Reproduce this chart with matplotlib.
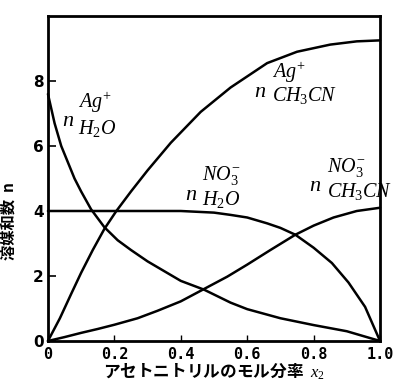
import matplotlib
matplotlib.use("Agg")
import matplotlib.pyplot as plt

plt.rcParams['font.family'] = ['Noto Sans CJK JP', 'DejaVu Sans']
plt.rcParams['mathtext.fontset'] = 'custom'
plt.rcParams['mathtext.it'] = 'Liberation Serif:italic'
plt.rcParams['mathtext.rm'] = 'Liberation Serif'

# solvation numbers vs. mole fraction of acetonitrile
ag_h2o_x = [0.0, 0.02, 0.04, 0.06, 0.08, 0.10, 0.13, 0.17, 0.21, 0.25, 0.30,
            0.35, 0.40, 0.47, 0.55, 0.60, 0.70, 0.80, 0.90, 0.95, 1.0]
ag_h2o_y = [7.6, 6.7, 6.0, 5.5, 5.0, 4.6, 4.05, 3.5, 3.1, 2.8, 2.45,
            2.15, 1.85, 1.58, 1.18, 0.98, 0.7, 0.49, 0.3, 0.15, 0.0]

ag_mecn_x = [0.0, 0.036, 0.07, 0.10, 0.135, 0.17, 0.206, 0.25, 0.30, 0.37,
             0.46, 0.55, 0.66, 0.75, 0.85, 0.93, 1.0]
ag_mecn_y = [0.0, 0.7, 1.45, 2.1, 2.8, 3.45, 4.0, 4.6, 5.25, 6.1,
             7.05, 7.8, 8.55, 8.9, 9.12, 9.22, 9.25]

no3_h2o_x = [0.0, 0.2, 0.4, 0.5, 0.55, 0.6, 0.66, 0.70, 0.745, 0.8,
             0.855, 0.905, 0.955, 1.0]
no3_h2o_y = [4.0, 4.0, 4.0, 3.95, 3.88, 3.8, 3.62, 3.48, 3.27, 2.87,
             2.4, 1.8, 1.05, 0.0]

no3_mecn_x = [0.0, 0.05, 0.1, 0.15, 0.2, 0.27, 0.33, 0.4, 0.47, 0.54,
              0.6, 0.67, 0.745, 0.8, 0.86, 0.93, 1.0]
no3_mecn_y = [0.0, 0.12, 0.25, 0.37, 0.5, 0.7, 0.93, 1.22, 1.6, 1.98,
              2.35, 2.8, 3.27, 3.55, 3.8, 4.0, 4.1]

xticks = [0, 0.2, 0.4, 0.6, 0.8, 1.0]
xticklabels = ['0', '0.2', '0.4', '0.6', '0.8', '1.0']
yticks = [0, 2, 4, 6, 8]

fig = plt.figure(figsize=(3.93, 3.81), dpi=100)
ax = fig.add_axes([0.122, 0.105, 0.845, 0.853])

for xs, ys in [(ag_h2o_x, ag_h2o_y), (ag_mecn_x, ag_mecn_y),
               (no3_h2o_x, no3_h2o_y), (no3_mecn_x, no3_mecn_y)]:
    ax.plot(xs, ys, color='black', lw=1.8, solid_joinstyle='round',
            solid_capstyle='round', clip_on=False)

ax.set_xlim(0, 1.0)
ax.set_ylim(0, 10)
for s in ax.spines.values():
    s.set_linewidth(2)

ax.set_xticks(xticks)
ax.set_xticklabels(xticklabels, family='DejaVu Sans Mono', fontweight='bold', fontsize=11)
ax.set_yticks(yticks)
ax.set_yticklabels([str(v) for v in yticks], family='DejaVu Sans', fontweight='bold', fontsize=11)
ax.tick_params(axis='x', direction='in', length=4, width=1, pad=4)
ax.tick_params(axis='y', direction='in', length=6, width=1.2, pad=3)

ax.set_xlabel(r'アセトニトリルのモル分率  $x_2$', fontsize=12, fontweight='bold', labelpad=0)
ax.set_ylabel('溶媒和数  n', fontsize=11, fontweight='bold', labelpad=2)
ax.yaxis.set_label_coords(-0.095, 0.37)

# curve labels: n with ion (top) and solvent (bottom)
def label(xn, yn, ion, solv, xs, yi, ys):
    ax.text(xn, yn, r'$n$', fontsize=16, ha='center', va='center', clip_on=False)
    ax.text(xs, yi, ion, fontsize=14.5, ha='left', va='center', clip_on=False)
    ax.text(xs, ys, solv, fontsize=14.5, ha='left', va='center', clip_on=False)

label(0.06, 6.8, r'$Ag^{+}$', r'$H_{2}O$', 0.092, 7.35, 6.55)
label(0.64, 7.7, r'$Ag^{+}$', r'$CH_{3}CN$', 0.675, 8.25, 7.55)
label(0.43, 4.55, r'$NO_{3}^{-}$', r'$H_{2}O$', 0.465, 5.1, 4.35)
label(0.805, 4.8, r'$NO_{3}^{-}$', r'$CH_{3}CN$', 0.84, 5.35, 4.6)

fig.savefig('out.png', dpi=100)
